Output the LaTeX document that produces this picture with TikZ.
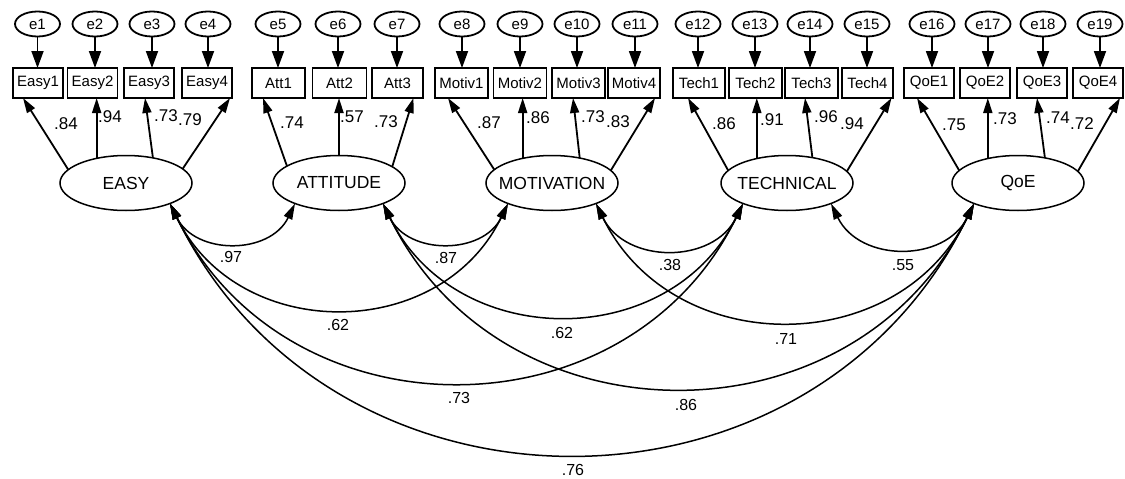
\documentclass[tikz,border=0pt]{standalone}
\usepackage{fontspec}
\setmainfont{Liberation Sans}
\usetikzlibrary{arrows.meta,shapes.geometric}
\newcommand{\zw}[1]{\makebox[0pt]{#1}}
\begin{document}
\begin{tikzpicture}[x=1pt,y=-1pt,
  err/.style={ellipse,draw,line width=1.8pt,minimum width=45pt,minimum height=25pt,inner sep=0pt,outer sep=0pt,font=\fontsize{15}{17}\selectfont},
  ind/.style={rectangle,draw,line width=1.8pt,minimum width=50pt,minimum height=30pt,inner sep=0pt,outer sep=0pt,font=\fontsize{15}{18}\selectfont},
  lat/.style={ellipse,draw,line width=1.5pt,minimum width=132pt,minimum height=55pt,inner sep=0pt,outer sep=0pt,font=\fontsize{17.5}{20}\selectfont},
  earr/.style={-{Triangle[length=17pt,width=12pt]},line width=1.8pt},
  ld/.style={-{Triangle[length=15pt,width=9pt]},line width=1.8pt},
  cov/.style={{Triangle[length=16pt,width=9pt]}-{Triangle[length=16pt,width=9pt]},line width=1.5pt,out=-64,in=-116,looseness=1.18},
  num/.style={font=\fontsize{17}{20}\selectfont,inner sep=0pt},
  cnum/.style={font=\fontsize{16}{19}\selectfont,inner sep=0pt}]
\useasboundingbox (0,0) rectangle (1125,479);

% latent variables
\node[lat] (EASY) at (126,183) {\zw{EASY}};
\node[lat] (ATT)  at (339,183) {\zw{ATTITUDE}};
\node[lat] (MOT)  at (552,183) {\zw{MOTIVATION}};
\node[lat] (TECH) at (787,183) {\zw{TECHNICAL}};
\node[lat] (QOE)  at (1018,183) {\zw{QoE}};

% indicators
\node[ind] (Easy1) at (38,83) {Easy1};
\node[ind] (Easy2) at (92.5,83) {Easy2};
\node[ind] (Easy3) at (149,83) {Easy3};
\node[ind] (Easy4) at (207,83) {Easy4};
\node[ind,minimum width=53pt] (Att1) at (278.5,83) {Att1};
\node[ind,minimum width=54pt] (Att2) at (339.5,83) {Att2};
\node[ind,minimum width=51pt] (Att3) at (397.5,83) {Att3};
\node[ind,minimum width=53pt] (Motiv1) at (461.5,83) {Motiv1};
\node[ind,minimum width=53pt] (Motiv2) at (520,83) {Motiv2};
\node[ind,minimum width=53pt] (Motiv3) at (578.5,83) {Motiv3};
\node[ind,minimum width=52pt] (Motiv4) at (634,83) {Motiv4};
\node[ind,minimum width=52pt] (Tech1) at (699,83) {Tech1};
\node[ind,minimum width=53pt] (Tech2) at (755.5,83) {Tech2};
\node[ind,minimum width=53pt] (Tech3) at (811.5,83) {Tech3};
\node[ind,minimum width=51pt] (Tech4) at (867.5,83) {Tech4};
\node[ind] (QoE1) at (929,83) {QoE1};
\node[ind] (QoE2) at (985,83) {QoE2};
\node[ind] (QoE3) at (1042,83) {QoE3};
\node[ind] (QoE4) at (1098,83) {QoE4};

% error terms
\foreach \n/\x/\b in {1/37.5/Easy1,2/95/Easy2,3/152/Easy3,4/208/Easy4,5/278/Att1,6/338/Att2,7/397/Att3,
  8/462/Motiv1,9/520/Motiv2,10/577/Motiv3,11/635/Motiv4,12/698/Tech1,13/755/Tech2,14/810/Tech3,15/867/Tech4,
  16/932/QoE1,17/988/QoE2,18/1043/QoE3,19/1100/QoE4}{
  \node[err] (e\n) at (\x,24) {e\n};
  \draw[earr] (e\n.south) -- (e\n.south |- \b.north);
}

% loadings
\draw[ld] (EASY.167) -- ([xshift=-15pt]Easy1.south);
\draw[ld] (EASY.140) -- (EASY.140 |- Easy2.south);
\draw[ld] (EASY.43) -- ([xshift=-4pt]Easy3.south);
\draw[ld] (EASY.14) -- ([xshift=23pt]Easy4.south);

\draw[ld] (ATT.162) -- ([xshift=-15.5pt]Att1.south);
\draw[ld] (ATT.north) -- (ATT.north |- Att2.south);
\draw[ld] (ATT.17) -- ([xshift=16pt]Att3.south);

\draw[ld] (MOT.167) -- ([xshift=-13.5pt]Motiv1.south);
\draw[ld] (MOT.140) -- (MOT.140 |- Motiv2.south);
\draw[ld] (MOT.42) -- ([xshift=-5.5pt]Motiv3.south);
\draw[ld] (MOT.12) -- ([xshift=21pt]Motiv4.south);

\draw[ld] (TECH.168) -- ([xshift=-11pt]Tech1.south);
\draw[ld] (TECH.141) -- (TECH.141 |- Tech2.south);
\draw[ld] (TECH.45) -- ([xshift=-6.5pt]Tech3.south);
\draw[ld] (TECH.11) -- ([xshift=24pt]Tech4.south);

\draw[ld] (QOE.168) -- ([xshift=-12pt]QoE1.south);
\draw[ld] (QOE.141) -- (QOE.141 |- QoE2.south);
\draw[ld] (QOE.43) -- ([xshift=-5pt]QoE3.south);
\draw[ld] (QOE.11) -- ([xshift=22pt]QoE4.south);

% loading labels
\node[num] (l1) at (66,124) {.84};
\node[num] (l2) at (110,117) {.94};
\node[num] (l3) at (166,116) {.73};
\node[num] (l4) at (190,120) {.79};
\node[num] (l5) at (292,123) {.74};
\node[num] (l6) at (352,117) {.57};
\node[num] (l7) at (386,122) {.73};
\node[num] (l8) at (489,123) {.87};
\node[num] (l9) at (538,118) {.86};
\node[num] (l10) at (593,117) {.73};
\node[num] (l11) at (618,122) {.83};
\node[num] (l12) at (724,124) {.86};
\node[num] (l13) at (772,120) {.91};
\node[num] (l14) at (826,117) {.96};
\node[num] (l15) at (852,124) {.94};
\node[num] (l16) at (954,125) {.75};
\node[num] (l17) at (1005,119) {.73};
\node[num] (l18) at (1058,118) {.74};
\node[num] (l19) at (1082,124) {.72};

% covariances
\draw[cov] (EASY.-25) to (ATT.-155);
\draw[cov] (EASY.-25) to (MOT.-155);
\draw[cov] (EASY.-25) to (TECH.-155);
\draw[cov] (EASY.-25) to (QOE.-155);
\draw[cov] (ATT.-25) to (MOT.-155);
\draw[cov] (ATT.-25) to (TECH.-155);
\draw[cov] (ATT.-25) to (QOE.-155);
\draw[cov] (MOT.-25) to (TECH.-155);
\draw[cov] (MOT.-25) to (QOE.-155);
\draw[cov] (TECH.-25) to (QOE.-155);

% covariance labels
\node[cnum] (c1) at (231,257) {.97};
\node[cnum] (c2) at (446,258) {.87};
\node[cnum] (c3) at (670,265) {.38};
\node[cnum] (c4) at (903,265) {.55};
\node[cnum] (c5) at (338,325) {.62};
\node[cnum] (c6) at (562,333) {.62};
\node[cnum] (c7) at (786,339) {.71};
\node[cnum] (c8) at (459,398) {.73};
\node[cnum] (c9) at (686,405) {.86};
\node[cnum] (c10) at (573,470) {.76};
\end{tikzpicture}
\end{document}
